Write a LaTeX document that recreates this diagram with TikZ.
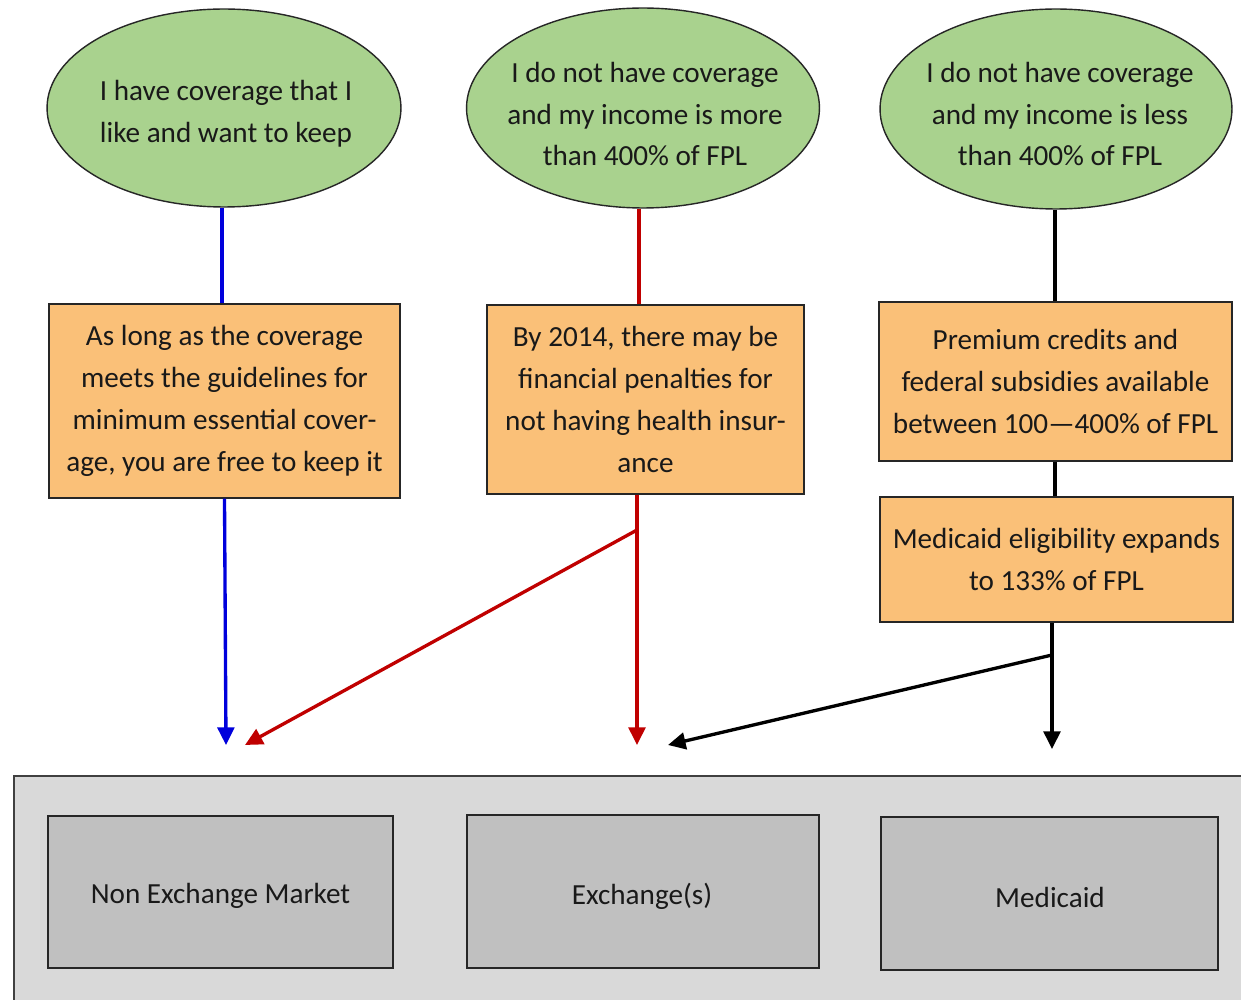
\documentclass[tikz,border=0pt]{standalone}
\usepackage{fontspec}
\setmainfont{Carlito}
\usetikzlibrary{shapes.geometric,arrows.meta}
\definecolor{ovalgreen}{RGB}{169,210,142}
\definecolor{boxorange}{RGB}{250,192,120}
\definecolor{panelgray}{RGB}{217,217,217}
\definecolor{cellgray}{RGB}{192,192,192}
\definecolor{redline}{RGB}{192,0,0}
\definecolor{blueline}{RGB}{0,0,220}
\tikzset{
  oval/.style={ellipse, draw=black!85, line width=0.8pt, fill=ovalgreen, inner sep=0pt},
  ovaltext/.style={align=center, font=\fontsize{16.6}{23.8}\selectfont, inner sep=0pt, text=black!90},
  infobox/.style={rectangle, draw=black!85, line width=0.8pt, fill=boxorange, inner sep=0pt, align=center, font=\fontsize{16.6}{23.8}\selectfont, text=black!90},
  cell/.style={rectangle, draw=black!85, line width=0.9pt, fill=cellgray, inner sep=0pt},
  celltext/.style={font=\fontsize{16.6}{23.8}\selectfont, text=black!90, inner sep=0pt},
  conn/.style={line width=1.9pt},
  arr/.style={conn, -{Triangle[length=10pt,width=9.5pt]}},
}
\begin{document}
\begin{tikzpicture}[x=0.02cm,y=-0.02cm]
\useasboundingbox (0,0) rectangle (1241,1000);
\fill[white] (0,0) rectangle (1241,1000);
% bottom panel
\begin{scope}
\clip (0,0) rectangle (1241,1000);
\draw[fill=panelgray, draw=black!75, line width=0.9pt] (14,776) rectangle (1270,1030);
\end{scope}
% ovals
\node[oval, minimum width=7.08cm, minimum height=3.96cm] (e1) at (224,108) {};
\node[ovaltext] (e1t) at (226,114) {I have coverage that I\\like and want to keep};
\node[oval, minimum width=7.06cm, minimum height=4.0cm] (e2) at (643,108) {};
\node[ovaltext] (e2t) at (645,114) {I do not have coverage\\and my income is more\\than 400\% of FPL};
\node[oval, minimum width=7.04cm, minimum height=4.0cm] (e3) at (1056,109) {};
\node[ovaltext] (e3t) at (1060,114) {I do not have coverage\\and my income is less\\than 400\% of FPL};
% orange boxes
\node[infobox, minimum width=7.02cm, minimum height=3.88cm] (r1) at (224.5,401) {As long as the coverage\\meets the guidelines for\\minimum essential cover-\\age, you are free to keep it};
\node[infobox, minimum width=6.34cm, minimum height=3.78cm] (r2) at (645.5,399.5) {By 2014, there may be\\financial penalties for\\not having health insur-\\ance};
\node[infobox, minimum width=7.06cm, minimum height=3.18cm] (r3) at (1055.5,381.5) {Premium credits and\\federal subsidies available\\between 100—400\% of FPL};
\node[infobox, minimum width=7.06cm, minimum height=2.5cm] (r4) at (1056.5,559.5) {Medicaid eligibility expands\\to 133\% of FPL};
% bottom cells
\node[cell, minimum width=6.9cm, minimum height=3.04cm] (b1) at (220.5,892) {};
\node[cell, minimum width=7.04cm, minimum height=3.06cm] (b2) at (643,891.5) {};
\node[cell, minimum width=6.74cm, minimum height=3.06cm] (b3) at (1049.5,893.5) {};
\node[celltext] (b1t) at (220.5,896) {Non Exchange Market};
\node[celltext] (b2t) at (642,896) {Exchange(s)};
\node[celltext] (b3t) at (1050,897) {Medicaid};
% connector coordinates
\coordinate (t1) at (226,745);
\coordinate (t2) at (245,745);
\coordinate (j2) at (637,530);
\coordinate (t3) at (637,745);
\coordinate (t4) at (668,745);
\coordinate (j3) at (1052,655);
\coordinate (t5) at (1052,749);
\coordinate (x1) at (222,0);
\coordinate (x2) at (639,0);
\coordinate (x3) at (1055,0);
% blue
\draw[conn, blueline] (e1.south -| x1) -- (r1.north -| x1);
\draw[arr, blueline] (r1.south) -- (t1);
% red
\draw[conn, redline] (e2.south -| x2) -- (r2.north -| x2);
\draw[arr, redline] (r2.south -| j2) -- (t3);
\draw[arr, redline] (j2) -- (t2);
% black
\draw[conn, black] (e3.south -| x3) -- (r3.north -| x3);
\draw[conn, black] (r3.south -| x3) -- (r4.north -| x3);
\draw[arr, black] (r4.south -| j3) -- (t5);
\draw[arr, black] (j3) -- (t4);
\end{tikzpicture}
\end{document}
